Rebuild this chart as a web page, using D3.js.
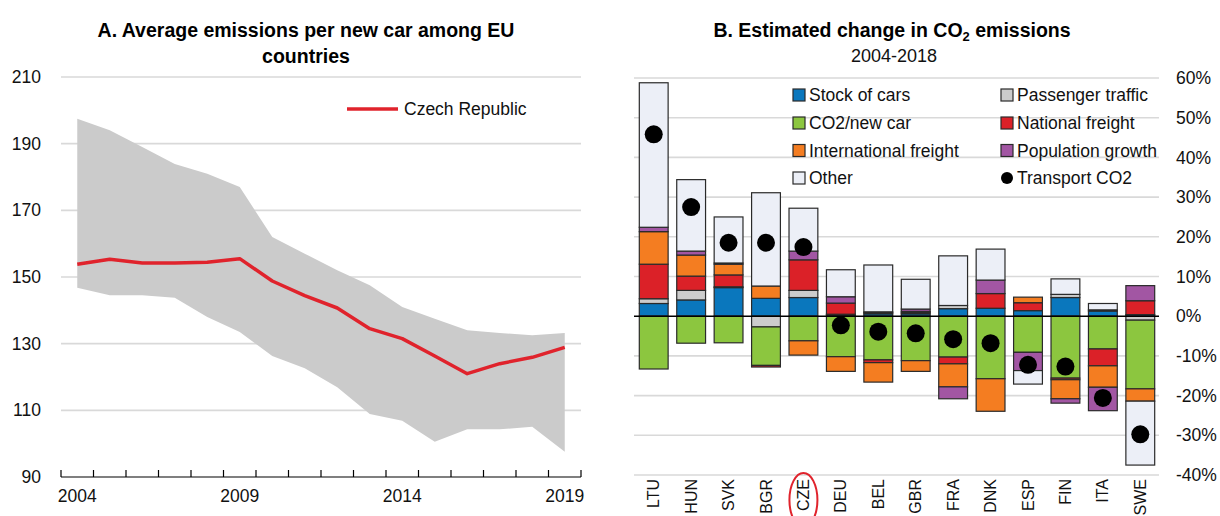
<!DOCTYPE html>
<html>
<head>
<meta charset="utf-8">
<script src="https://cdn.jsdelivr.net/npm/d3@7"></script>
<style>
  html, body { margin: 0; padding: 0; background: #fff; }
  svg { display: block; font-family: "Liberation Sans", Arial, sans-serif; }
</style>
</head>
<body>
<svg id="chart" width="1220" height="516"></svg>
<script>
// ---------- Panel A data ----------
const years = [2004,2005,2006,2007,2008,2009,2010,2011,2012,2013,2014,2015,2016,2017,2018,2019];
const czechRepublic = [153.8,155.3,154.2,154.2,154.4,155.5,148.8,144.4,140.7,134.5,131.5,126.3,121.0,124.0,125.9,128.9];
const euMax = [197.5,194.0,189.0,183.9,181.0,177.0,162.0,157.0,152.0,147.5,141.0,137.5,134.0,133.2,132.5,133.2];
const euMin = [146.8,144.5,144.5,143.8,138.0,133.5,126.3,122.6,116.9,108.9,106.9,100.6,104.3,104.3,105.1,97.6];
const yTicksA = [90,110,130,150,170,190,210];
const yearLabels = [2004,2009,2014,2019];

// ---------- Panel B data ----------
const countries = ["LTU","HUN","SVK","BGR","CZE","DEU","BEL","GBR","FRA","DNK","ESP","FIN","ITA","SWE"];
const stockOfCars          = [3.2, 4.1, 7.2, 4.5, 4.7, 0.3, 0.6, 0.6, 1.9, 2.0, 1.4, 4.7, 1.3, 0.4];
const passengerTraffic     = [1.2, 2.4, 0.2,-2.7, 1.8, 0.2, 0.3, 0.3, 0.8, 0.0, 0.0, 0.8, 0.3,-1.0];
const co2NewCar            = [-13.3,-6.8,-6.7,-9.7,-6.2,-10.2,-11.0,-11.2,-10.3,-15.75,-9.1,-15.6,-8.25,-17.3];
const nationalFreight      = [8.7, 3.6, 3.0,-0.4, 7.7, 2.8,-0.7, 0.3,-1.7, 3.7, 2.0,-0.4,-4.25, 3.5];
const internationalFreight = [8.2, 5.3, 2.7, 3.1,-3.6,-3.7,-4.9,-2.7,-5.8,-8.2, 1.4,-4.8,-5.4,-3.1];
const populationGrowth     = [1.1, 1.0, 0.3, 0.0, 2.2, 1.6, 0.2, 0.6,-3.0, 3.4,-4.6,-1.1,-5.9, 3.8];
const other                = [36.4,18.0,11.6,23.5,10.8, 6.8,11.8, 7.5,12.5, 7.8,-3.4, 3.9, 1.6,-16.1];
const transportCO2         = [45.8,27.5,18.5,18.5,17.4,-2.3,-3.9,-4.3,-5.8,-6.8,-12.25,-12.7,-20.6,-29.75];
const yTicksB = [-40,-30,-20,-10,0,10,20,30,40,50,60];

const seriesB = [
  {key:"Stock of cars",        values: stockOfCars,          color:"#0a77bd"},
  {key:"Passenger traffic",    values: passengerTraffic,     color:"#cccccc"},
  {key:"CO2/new car",          values: co2NewCar,            color:"#8cc63f"},
  {key:"National freight",     values: nationalFreight,      color:"#db2128"},
  {key:"International freight",values: internationalFreight, color:"#f47d21"},
  {key:"Population growth",    values: populationGrowth,     color:"#a256a3"},
  {key:"Other",                values: other,                color:"#eceff7"}
];

const svg = d3.select("#chart");
svg.append("rect").attr("width",1220).attr("height",516).attr("fill","#fff");

// ================= Panel A =================
const gA = svg.append("g");
const xA = d3.scaleBand().domain(years).range([61,581]);
const yA = d3.scaleLinear().domain([90,210]).range([477,77]);
const bwA = xA.bandwidth();
const cx = d => xA(d) + bwA/2;

gA.append("text").attr("x",306).attr("y",37).attr("text-anchor","middle")
  .attr("font-size",19.5).attr("font-weight","bold").text("A. Average emissions per new car among EU");
gA.append("text").attr("x",306).attr("y",63).attr("text-anchor","middle")
  .attr("font-size",19.5).attr("font-weight","bold").text("countries");

// gridlines
gA.selectAll(".gridA").data(yTicksA.filter(v=>v>90)).enter().append("line")
  .attr("x1",61).attr("x2",581).attr("y1",d=>yA(d)).attr("y2",d=>yA(d))
  .attr("stroke","#d9d9d9").attr("stroke-width",1.6);
// y labels
gA.selectAll(".ylabA").data(yTicksA).enter().append("text")
  .attr("x",41).attr("y",d=>yA(d)).attr("dy","0.35em").attr("text-anchor","end")
  .attr("font-size",17.5).attr("fill","#111").text(d=>d);

// area band
const bandData = years.map((y,i)=>({year:y, lo:euMin[i], hi:euMax[i], cz:czechRepublic[i]}));
gA.append("path").datum(bandData)
  .attr("d", d3.area().x(d=>cx(d.year)).y0(d=>yA(d.lo)).y1(d=>yA(d.hi)))
  .attr("fill","#cbcbcb");
// line
gA.append("path").datum(bandData)
  .attr("d", d3.line().x(d=>cx(d.year)).y(d=>yA(d.cz)))
  .attr("fill","none").attr("stroke","#e0232c").attr("stroke-width",3.5)
  .attr("stroke-linejoin","round");

// x axis
gA.append("line").attr("x1",61).attr("x2",581).attr("y1",yA(90)).attr("y2",yA(90))
  .attr("stroke","#000").attr("stroke-width",1.2);
const tickPos = years.map(y=>xA(y)).concat([xA(2019)+xA.step()]);
gA.selectAll(".tickA").data(tickPos).enter().append("line")
  .attr("x1",d=>d).attr("x2",d=>d).attr("y1",yA(90)).attr("y2",yA(90)-7)
  .attr("stroke","#000").attr("stroke-width",1.2);
gA.selectAll(".xlabA").data(yearLabels).enter().append("text")
  .attr("x",d=>cx(d)).attr("y",yA(90)+19).attr("dy","0.35em").attr("text-anchor","middle")
  .attr("font-size",17.5).attr("fill","#111").text(d=>d);

// legend A
gA.append("line").attr("x1",347).attr("x2",398).attr("y1",109).attr("y2",109)
  .attr("stroke","#e0232c").attr("stroke-width",3.5);
gA.append("text").attr("x",404).attr("y",109).attr("dy","0.35em")
  .attr("font-size",17.5).attr("fill","#111").text("Czech Republic");

// ================= Panel B =================
const gB = svg.append("g");
const xB = d3.scaleBand().domain(countries).range([635,1159]).paddingInner(0.23).paddingOuter(0.115);
const yB = d3.scaleLinear().domain([-40,60]).range([475,78]);
const bwB = xB.bandwidth();

const titleB = gB.append("text").attr("x",892).attr("y",37).attr("text-anchor","middle")
  .attr("font-size",19.5).attr("font-weight","bold");
titleB.append("tspan").text("B. Estimated change in CO");
titleB.append("tspan").attr("font-size",13).attr("dy",4).text("2");
titleB.append("tspan").attr("dy",-4).text(" emissions");
gB.append("text").attr("x",894).attr("y",62).attr("text-anchor","middle")
  .attr("font-size",18).attr("fill","#111").text("2004-2018");

gB.selectAll(".gridB").data(yTicksB.filter(v=>v!==0)).enter().append("line")
  .attr("x1",634).attr("x2",1159).attr("y1",d=>yB(d)).attr("y2",d=>yB(d))
  .attr("stroke","#d9d9d9").attr("stroke-width",1.6);
gB.selectAll(".ylabB").data(yTicksB).enter().append("text")
  .attr("x",1176).attr("y",d=>yB(d)).attr("dy","0.35em").attr("text-anchor","start")
  .attr("font-size",17.5).attr("fill","#111").text(d=>d+"%");

// stacked bars
const rows = countries.map((c,i)=>{
  const r = {country:c};
  seriesB.forEach(s=>{ r[s.key] = s.values[i]; });
  return r;
});
const stack = d3.stack().keys(seriesB.map(s=>s.key)).offset(d3.stackOffsetDiverging);
const stacked = stack(rows);
stacked.forEach((layer,li)=>{
  gB.selectAll(".seg"+li).data(layer.filter(d=>d[1]!==d[0])).enter().append("rect")
    .attr("x",d=>xB(d.data.country))
    .attr("width",bwB)
    .attr("y",d=>yB(Math.max(d[0],d[1])))
    .attr("height",d=>Math.abs(yB(d[0])-yB(d[1])))
    .attr("fill",seriesB[li].color)
    .attr("stroke","#2a2a2a").attr("stroke-width",1.2);
});
// zero line
gB.append("line").attr("x1",634).attr("x2",1159).attr("y1",yB(0)).attr("y2",yB(0))
  .attr("stroke","#000").attr("stroke-width",1.4);
// dots
gB.selectAll(".dot").data(countries).enter().append("circle")
  .attr("cx",d=>xB(d)+bwB/2).attr("cy",(d,i)=>yB(transportCO2[i])).attr("r",9)
  .attr("fill","#000");

// x labels (rotated)
gB.selectAll(".xlabB").data(countries).enter().append("text")
  .attr("transform",d=>`translate(${xB(d)+bwB/2},479) rotate(-90)`)
  .attr("dy","0.35em").attr("text-anchor","end")
  .attr("font-size",16).attr("fill","#111").text(d=>d);
// highlight ellipse CZE
gB.append("ellipse").attr("cx",xB("CZE")+bwB/2).attr("cy",500).attr("rx",14).attr("ry",27)
  .attr("fill","none").attr("stroke","#e0232c").attr("stroke-width",2);

// legend B
const legendItems = [
  {label:"Stock of cars", color:"#0a77bd", col:0, row:0},
  {label:"Passenger traffic", color:"#cccccc", col:1, row:0},
  {label:"CO2/new car", color:"#8cc63f", col:0, row:1},
  {label:"National freight", color:"#db2128", col:1, row:1},
  {label:"International freight", color:"#f47d21", col:0, row:2},
  {label:"Population growth", color:"#a256a3", col:1, row:2},
  {label:"Other", color:"#eceff7", col:0, row:3},
  {label:"Transport CO2", color:"#000", col:1, row:3, dot:true}
];
const colX = [793, 1001];
const rowY = [95, 123, 150.5, 178];
legendItems.forEach(it=>{
  const x0 = colX[it.col], y0 = rowY[it.row];
  if (it.dot) {
    gB.append("circle").attr("cx",x0+6).attr("cy",y0).attr("r",6).attr("fill","#000");
  } else {
    gB.append("rect").attr("x",x0).attr("y",y0-6).attr("width",12).attr("height",12)
      .attr("fill",it.color).attr("stroke","#2a2a2a").attr("stroke-width",1.2);
  }
  gB.append("text").attr("x",x0+16).attr("y",y0).attr("dy","0.35em")
    .attr("font-size",17.5).attr("fill","#111").text(it.label);
});
</script>
</body>
</html>
